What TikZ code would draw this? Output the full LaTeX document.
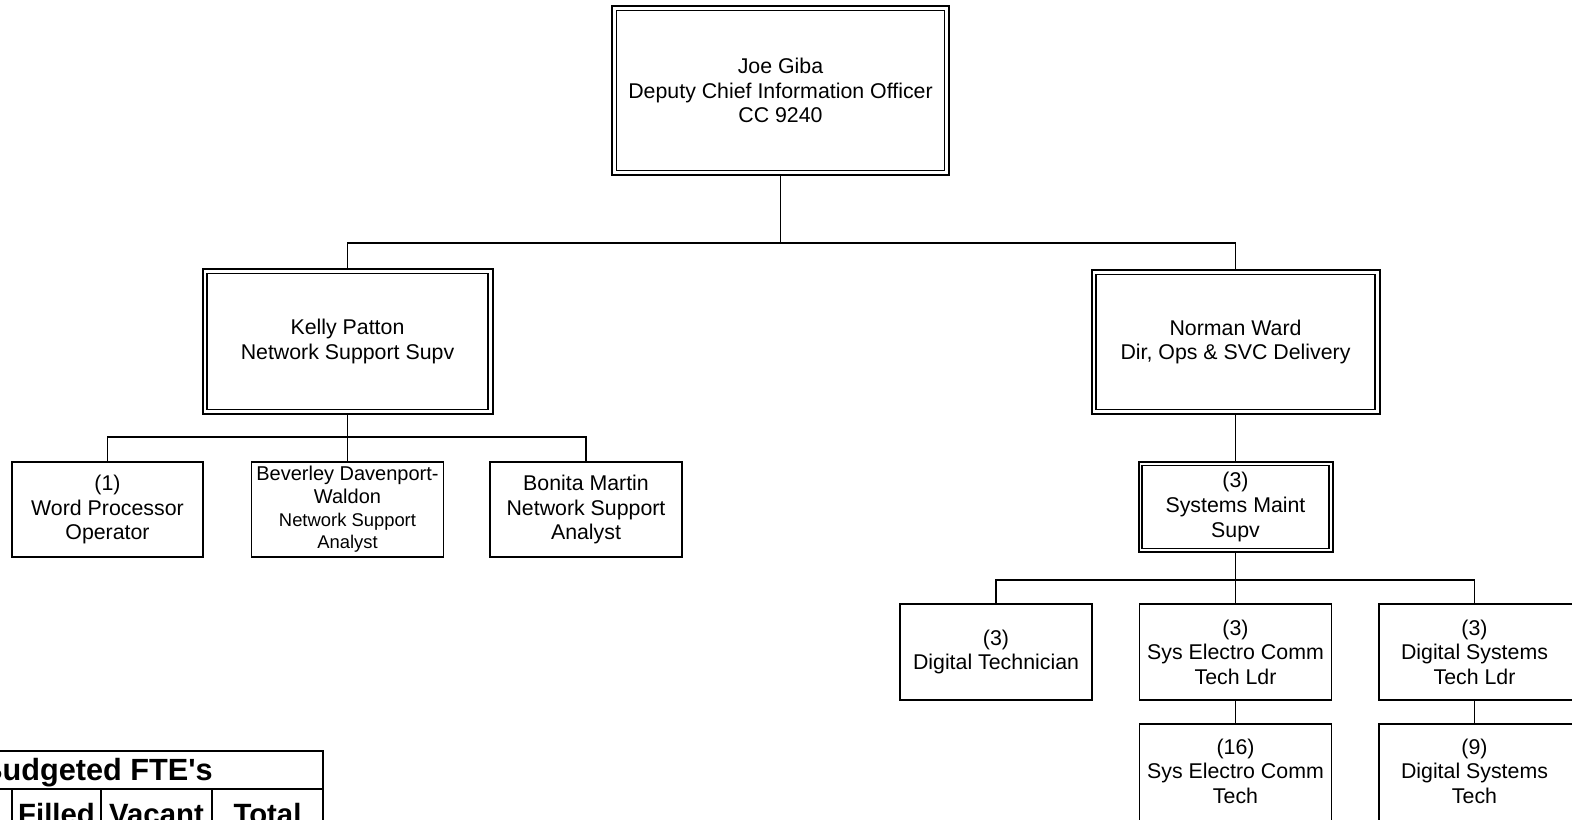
\documentclass[tikz,border=0pt]{standalone}
\usepackage{fontspec}
\setmainfont{Liberation Sans}
\begin{document}
\begin{tikzpicture}[x=0.75pt,y=-0.75pt,
  box/.style={draw, line width=1.1pt, align=center, inner sep=0pt,
    font=\fontsize{16}{18.4}\selectfont,
    minimum width=192*0.75pt, minimum height=96*0.75pt},
  dbl/.style={box, line width=1.5pt},
  innerbox/.style={draw, line width=0.8pt},
  conn/.style={draw, line width=1.1pt},
  txt/.style={align=center, inner sep=0pt, font=\fontsize{16}{18.4}\selectfont},
  tbl/.style={draw, line width=1.5pt},
  thead/.style={anchor=base, inner sep=0pt, font=\fontsize{22}{26}\selectfont\bfseries}
]
\useasboundingbox (0,0) rectangle (1572,820);
\clip (0,0) rectangle (1572,820);

% double-bordered boxes
\node[dbl, minimum width=337*0.75pt, minimum height=169*0.75pt] (top) at (780.5,90.5)
  {Joe Giba\\Deputy Chief Information Officer\\CC 9240};
\node[dbl, minimum width=290*0.75pt, minimum height=145*0.75pt] (kelly) at (347.5,341.5)
  {Kelly Patton\\Network Support Supv};
\node[dbl, minimum width=288*0.75pt, minimum height=144*0.75pt] (norman) at (1235.5,342)
  {Norman Ward\\Dir, Ops \& SVC Delivery};
\node[dbl, minimum width=194*0.75pt, minimum height=90*0.75pt] (sms) at (1235.5,507)
  {(3)\\Systems Maint\\Supv};

\foreach \n/\o in {top/5.5,kelly/5.5,norman/5.5,sms/4.5}
  \draw[innerbox] ([shift={(\o,\o)}]\n.north west) rectangle ([shift={(-\o,-\o)}]\n.south east);

% left children
\node[box, minimum width=191*0.75pt, minimum height=95*0.75pt] (wpo) at (107.5,509.5)
  {(1)\\Word Processor\\Operator};
\node[box, minimum width=192*0.75pt, minimum height=95*0.75pt, font=\fontsize{15}{17}\selectfont] (bdw) at (347.5,509.5)
  {Beverley Davenport-\\Waldon\\{\fontsize{13.8}{17}\selectfont Network Support}\\{\fontsize{13.8}{17}\selectfont Analyst}};
\node[box, minimum width=192*0.75pt, minimum height=95*0.75pt] (bm) at (586,509.5)
  {Bonita Martin\\Network Support\\Analyst};

% right children
\node[box] (dt) at (996,652) {(3)\\Digital Technician};
\node[box] (secl) at (1235.5,652) {(3)\\Sys Electro Comm\\Tech Ldr};
\node[box, minimum width=201*0.75pt,
  label={[txt, name=dslT, xshift=-3.75pt]center:{(3)\\Digital Systems\\Tech Ldr}}]
  (dsl) at (1479.5,652) {};
\node[box, minimum height=110*0.75pt,
  label={[txt, name=sectT, yshift=6pt]center:{(16)\\Sys Electro Comm\\Tech}}]
  (sect) at (1235.5,779) {};
\node[box, minimum width=201*0.75pt, minimum height=110*0.75pt,
  label={[txt, name=dstT, xshift=-3.75pt, yshift=6pt]center:{(9)\\Digital Systems\\Tech}}]
  (dst) at (1479.5,779) {};

% connectors
\draw[conn] (top.south) -- ++(0,67) -| (kelly.north);
\draw[conn] (top.south) ++(0,67) -| (norman.north);
\draw[conn] (kelly.south) -- ++(0,22) -| (wpo.north);
\draw[conn] (kelly.south) ++(0,22) -| (bm.north);
\draw[conn] (kelly.south) -- (bdw.north);
\draw[conn] (norman.south) -- (sms.north);
\draw[conn] (sms.south) -- ++(0,27) -| (dt.north);
\draw[conn] (sms.south) ++(0,27) -| (dslT |- dsl.north);
\draw[conn] (sms.south) -- (secl.north);
\draw[conn] (secl.south) -- (sect.north);
\draw[conn] (dslT |- dsl.south) -- (dslT |- dst.north);

% budget table (partly outside the picture)
\draw[tbl] (-200,751) -- (323,751) -- (323,840);
\draw[tbl] (-200,789) -- (323,789);
\foreach \x in {12,101,212} \draw[tbl] (\x,789) -- (\x,840);
\node[anchor=base east, inner sep=0pt, font=\fontsize{23}{27}\selectfont\bfseries] (ttitle) at (213,780)
  {Budgeted FTE\textquotesingle s};
\node[thead] (hfilled) at (56.5,824) {Filled};
\node[thead] (hvacant) at (156.5,824) {Vacant};
\node[thead] (htotal) at (267.5,824) {Total};
\end{tikzpicture}
\end{document}
